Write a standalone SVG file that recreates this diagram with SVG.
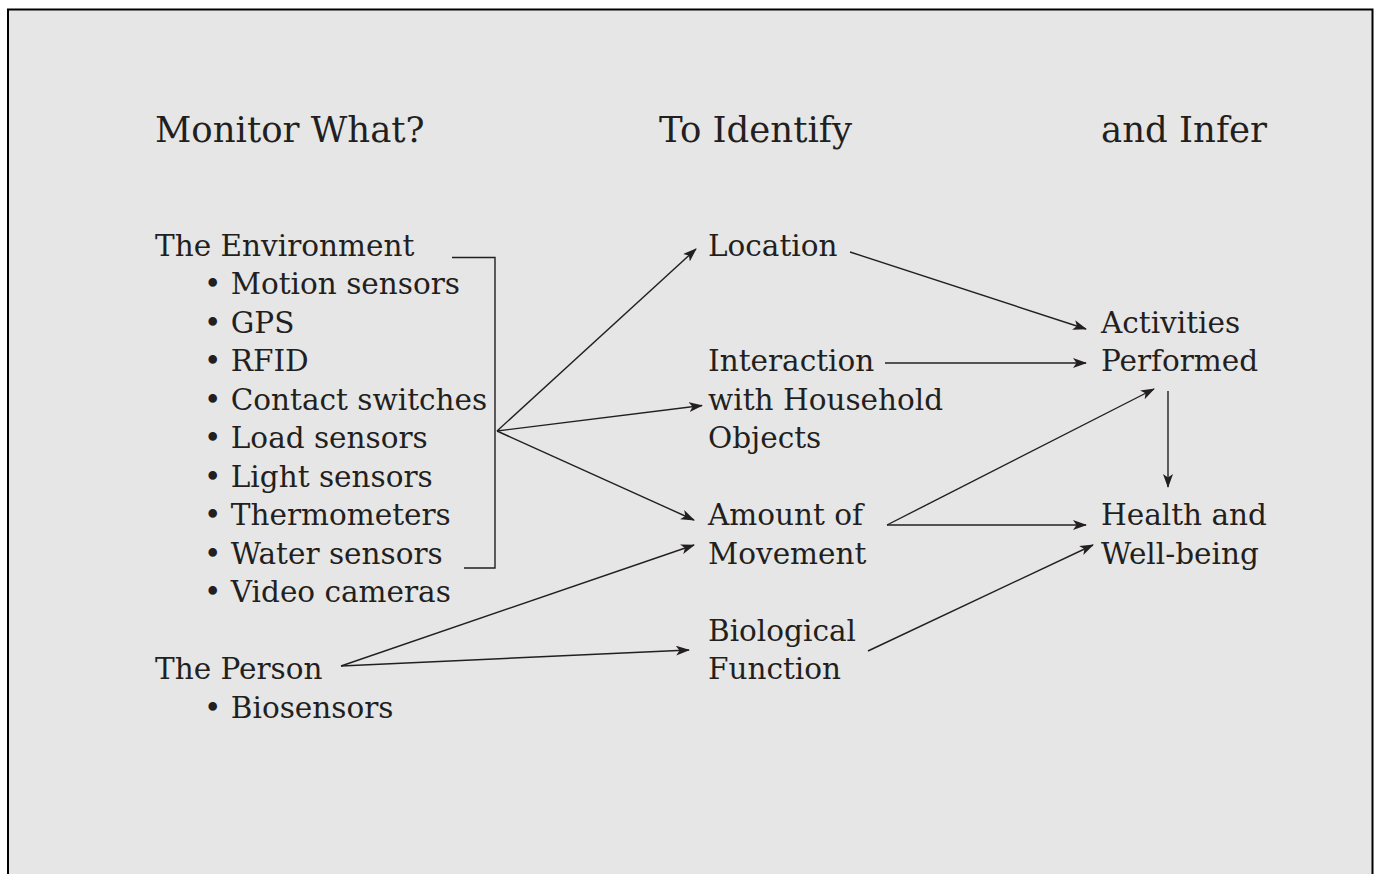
<svg xmlns="http://www.w3.org/2000/svg" width="1376" height="874" viewBox="0 0 1376 874">
<style>
text{font-family:"DejaVu Serif","Liberation Serif",serif;fill:#231f20;font-size:29.5px}
.t{font-size:35.5px}
.c{fill:none;stroke:#231f20;stroke-width:1.4}
</style>
<defs>
<marker id="ah" markerUnits="userSpaceOnUse" markerWidth="16" markerHeight="12" refX="13" refY="5" orient="auto">
<path d="M0,0 L14,5 L0,10 L3.5,5 z" fill="#231f20"/>
</marker>
</defs>
<rect x="0" y="0" width="1376" height="874" fill="#fff"/>
<rect x="8" y="9.5" width="1364.5" height="880" fill="#e6e6e6" stroke="#000" stroke-width="2"/>
<g id="titles">
<text class="t" x="155" y="142">Monitor What?</text>
<text class="t" x="659" y="142">To Identify</text>
<text class="t" x="1101" y="142">and Infer</text>
</g>
<g id="environment">
<text x="155" y="256">The Environment</text>
<text x="204" y="294">• Motion sensors</text>
<text x="204" y="333">• GPS</text>
<text x="204" y="371">• RFID</text>
<text x="204" y="410">• Contact switches</text>
<text x="204" y="448">• Load sensors</text>
<text x="204" y="487">• Light sensors</text>
<text x="204" y="525">• Thermometers</text>
<text x="204" y="564">• Water sensors</text>
<text x="204" y="602">• Video cameras</text>
</g>
<g id="person">
<text x="155" y="679">The Person</text>
<text x="204" y="718">• Biosensors</text>
</g>
<g id="location"><text x="708" y="256">Location</text></g>
<g id="interaction">
<text x="708" y="371">Interaction</text>
<text x="708" y="410">with Household</text>
<text x="708" y="448">Objects</text>
</g>
<g id="movement">
<text x="708" y="525">Amount of</text>
<text x="708" y="564">Movement</text>
</g>
<g id="biological">
<text x="708" y="641">Biological</text>
<text x="708" y="679">Function</text>
</g>
<g id="activities">
<text x="1101" y="333">Activities</text>
<text x="1101" y="371">Performed</text>
</g>
<g id="health">
<text x="1101" y="525">Health and</text>
<text x="1101" y="564">Well-being</text>
</g>
<g id="connectors">
<polyline class="c" points="452,257.5 495,257.5 495,568 464,568"/>
<line class="c" x1="497" y1="431" x2="696" y2="249" marker-end="url(#ah)"/>
<line class="c" x1="497" y1="431" x2="702" y2="405.5" marker-end="url(#ah)"/>
<line class="c" x1="497" y1="431" x2="694" y2="520" marker-end="url(#ah)"/>
<line class="c" x1="341" y1="666" x2="694" y2="545" marker-end="url(#ah)"/>
<line class="c" x1="341" y1="666" x2="689" y2="650" marker-end="url(#ah)"/>
<line class="c" x1="850" y1="252" x2="1086" y2="329" marker-end="url(#ah)"/>
<line class="c" x1="885" y1="363" x2="1086" y2="363" marker-end="url(#ah)"/>
<line class="c" x1="887" y1="525" x2="1154" y2="389" marker-end="url(#ah)"/>
<line class="c" x1="887" y1="525" x2="1086" y2="525" marker-end="url(#ah)"/>
<line class="c" x1="868" y1="651" x2="1093" y2="545" marker-end="url(#ah)"/>
<line class="c" x1="1168" y1="391" x2="1168" y2="487" marker-end="url(#ah)"/>
</g>
</svg>
